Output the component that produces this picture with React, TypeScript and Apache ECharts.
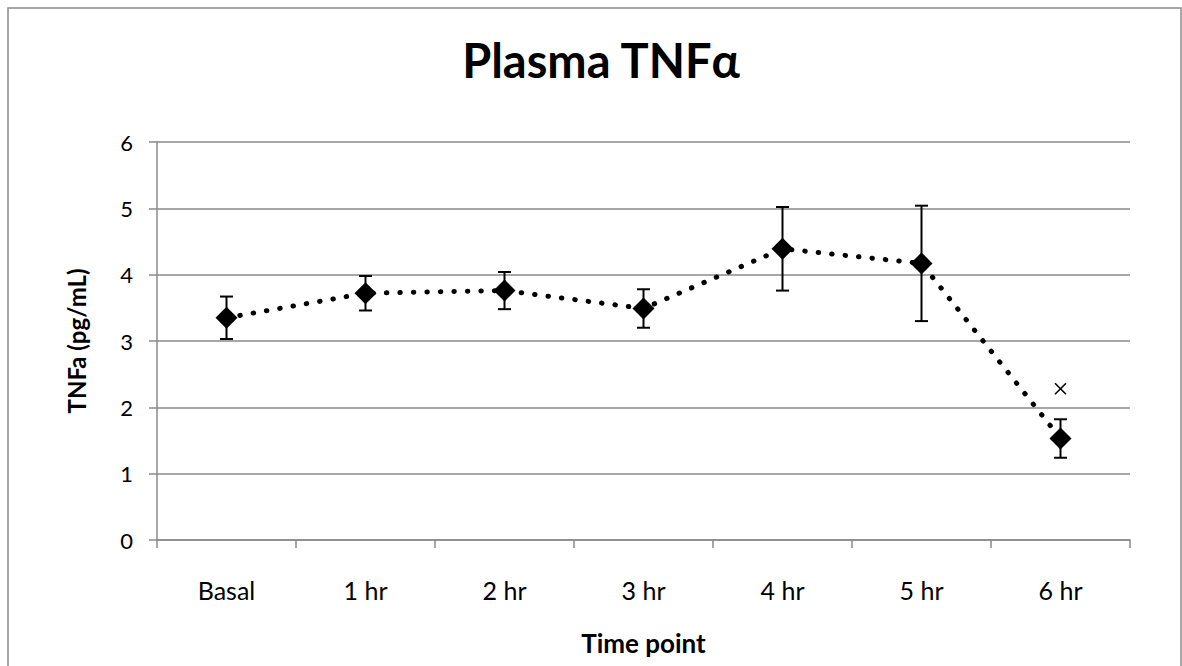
import React, { useEffect, useRef } from "react";
import * as echarts from "echarts";

const categories = ["Basal", "1 hr", "2 hr", "3 hr", "4 hr", "5 hr", "6 hr"];
const meanValues = [3.35, 3.72, 3.76, 3.49, 4.39, 4.17, 1.53];
const errorValues = [0.32, 0.26, 0.28, 0.29, 0.63, 0.87, 0.29];
const sigMarkerIndex = [6];
const sigMarkerValue = [2.28];
const yTicks = [0, 1, 2, 3, 4, 5, 6];

const FONT = "Lato, 'Open Sans', sans-serif";

export default function App() {
  const ref = useRef<HTMLDivElement>(null);
  useEffect(() => {
    document.body.style.margin = "0";
    const chart = echarts.init(ref.current!, null, { renderer: "svg" });
    const errData = categories.map((_, i) => [i, meanValues[i] - errorValues[i], meanValues[i] + errorValues[i]]);
    const sigData = sigMarkerIndex.map((idx, k) => [idx, sigMarkerValue[k]]);
    chart.setOption({
      animation: false,
      backgroundColor: "#fff",
      title: {
        text: "Plasma TNFα",
        left: 596,
        textAlign: "center",
        top: 31,
        textStyle: { fontFamily: FONT, fontWeight: "bold", fontSize: 47, color: "#000" },
      },
      graphic: [
        {
          type: "rect",
          shape: { x: 8, y: 8, width: 1173, height: 700 },
          style: { fill: "none", stroke: "#8a8a8a", lineWidth: 1.5 },
          silent: true,
        },
      ],
      grid: { left: 157, right: 52, top: 142, bottom: 126 },
      xAxis: {
        type: "category",
        data: categories,
        boundaryGap: true,
        name: "Time point",
        nameLocation: "middle",
        nameGap: 90,
        nameTextStyle: { fontFamily: FONT, fontWeight: "bold", fontSize: 26, color: "#000" },
        axisLine: { lineStyle: { color: "#8a8a8a", width: 1.5 } },
        axisTick: { show: true, length: 8, inside: false, lineStyle: { color: "#8a8a8a", width: 1.5 } },
        axisLabel: { fontFamily: FONT, fontSize: 25, color: "#000", margin: 37 },
        splitLine: { show: false },
      },
      yAxis: {
        type: "value",
        min: yTicks[0],
        max: yTicks[yTicks.length - 1],
        interval: 1,
        name: "TNFa (pg/mL)",
        nameLocation: "middle",
        nameGap: 69,
        nameRotate: 90,
        nameTextStyle: { fontFamily: FONT, fontWeight: "bold", fontSize: 24, color: "#000" },
        axisLine: { show: true, lineStyle: { color: "#8a8a8a", width: 1.5 } },
        axisTick: { show: true, length: 8, lineStyle: { color: "#8a8a8a", width: 1.5 } },
        axisLabel: { fontFamily: FONT, fontSize: 22, color: "#000", margin: 24 },
        splitLine: { show: true, lineStyle: { color: "#8a8a8a", width: 1.5 } },
      },
      series: [
        {
          type: "line",
          data: meanValues,
          symbol: "diamond",
          symbolSize: [22, 22],
          itemStyle: { color: "#000" },
          lineStyle: { color: "#000", width: 5, type: [0.5, 13], cap: "round" },
          z: 3,
        },
        {
          type: "custom",
          data: errData,
          z: 4,
          renderItem: (params: any, api: any) => {
            const x = api.value(0);
            const lo = api.coord([x, api.value(1)]);
            const hi = api.coord([x, api.value(2)]);
            const cw = 6.5;
            const st = { stroke: "#000", lineWidth: 2 };
            return {
              type: "group",
              children: [
                { type: "line", shape: { x1: lo[0], y1: lo[1], x2: hi[0], y2: hi[1] }, style: st },
                { type: "line", shape: { x1: lo[0] - cw, y1: lo[1], x2: lo[0] + cw, y2: lo[1] }, style: st },
                { type: "line", shape: { x1: hi[0] - cw, y1: hi[1], x2: hi[0] + cw, y2: hi[1] }, style: st },
              ],
            };
          },
        },
        {
          type: "custom",
          data: sigData,
          z: 4,
          renderItem: (params: any, api: any) => {
            const p = api.coord([api.value(0), api.value(1)]);
            const h = 5.5;
            const st = { stroke: "#000", lineWidth: 1.6 };
            return {
              type: "group",
              children: [
                { type: "line", shape: { x1: p[0] - h, y1: p[1] - h, x2: p[0] + h, y2: p[1] + h }, style: st },
                { type: "line", shape: { x1: p[0] - h, y1: p[1] + h, x2: p[0] + h, y2: p[1] - h }, style: st },
              ],
            };
          },
        },
      ],
    });
    return () => chart.dispose();
  }, []);
  return <div ref={ref} style={{ width: 1182, height: 666 }} />;
}
